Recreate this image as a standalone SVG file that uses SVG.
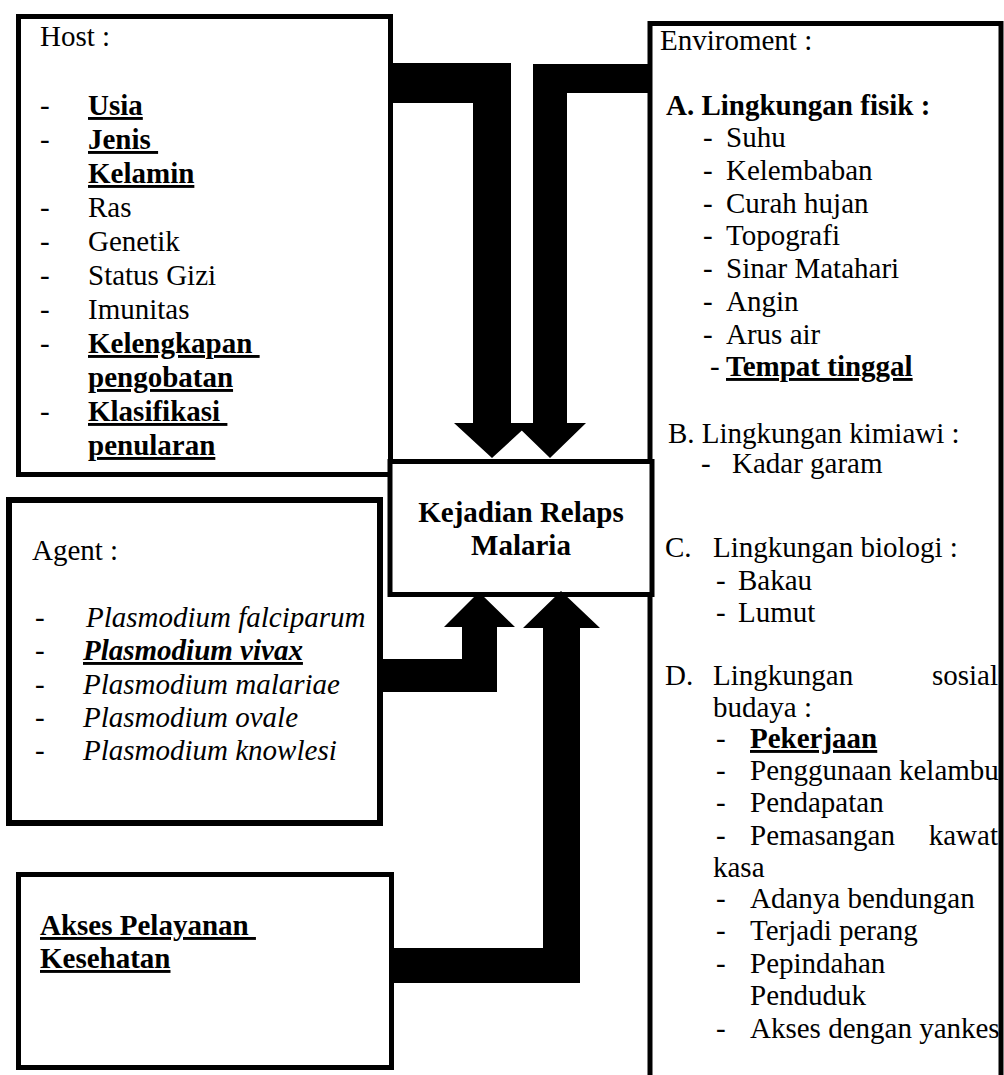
<svg xmlns="http://www.w3.org/2000/svg" width="1004" height="1075" viewBox="0 0 1004 1075" font-family="'Liberation Serif', 'Times New Roman', 'DejaVu Serif', serif">
<style>
.t{font-family:"Liberation Serif","Times New Roman","DejaVu Serif",serif;font-size:29px;fill:#000}
.b{font-weight:bold}
.i{font-style:italic}
.u{text-decoration:underline;text-decoration-thickness:2.5px;white-space:pre}
.box{fill:#fff;stroke:#000;stroke-width:5}
.arrow{fill:#000;stroke:none}
</style>
<rect x="0" y="0" width="1004" height="1075" fill="#fff"/>
<g id="environment">
<rect class="box" x="650" y="23.5" width="351" height="1100"/>
<text class="t" x="660" y="50">Enviroment :</text>
<text class="t b" x="666" y="115">A. Lingkungan fisik :</text>
<text class="t"><tspan x="703" y="147">-</tspan><tspan x="726" y="147">Suhu</tspan></text>
<text class="t"><tspan x="703" y="180">-</tspan><tspan x="726" y="180">Kelembaban</tspan></text>
<text class="t"><tspan x="703" y="213">-</tspan><tspan x="726" y="213">Curah hujan</tspan></text>
<text class="t"><tspan x="703" y="245">-</tspan><tspan x="726" y="245">Topografi</tspan></text>
<text class="t"><tspan x="703" y="278">-</tspan><tspan x="726" y="278">Sinar Matahari</tspan></text>
<text class="t"><tspan x="703" y="311">-</tspan><tspan x="726" y="311">Angin</tspan></text>
<text class="t"><tspan x="703" y="344">-</tspan><tspan x="726" y="344">Arus air</tspan></text>
<text class="t"><tspan x="710" y="376">-</tspan></text>
<text class="t b u" x="726" y="376">Tempat tinggal</text>
<text class="t" x="668" y="443">B. Lingkungan kimiawi :</text>
<text class="t"><tspan x="701" y="473">-</tspan><tspan x="732" y="473">Kadar garam</tspan></text>
<text class="t"><tspan x="665" y="557">C.</tspan><tspan x="713" y="557">Lingkungan biologi :</tspan></text>
<text class="t"><tspan x="716" y="590">-</tspan><tspan x="738" y="590">Bakau</tspan></text>
<text class="t"><tspan x="716" y="622">-</tspan><tspan x="738" y="622">Lumut</tspan></text>
<text class="t"><tspan x="665" y="685">D.</tspan><tspan x="713" y="685">Lingkungan</tspan></text>
<text class="t" x="998" y="685" text-anchor="end">sosial</text>
<text class="t" x="713" y="717">budaya :</text>
<text class="t"><tspan x="716" y="748">-</tspan></text>
<text class="t b u" x="750" y="748">Pekerjaan</text>
<text class="t"><tspan x="716" y="780">-</tspan><tspan x="750" y="780">Penggunaan kelambu</tspan></text>
<text class="t"><tspan x="716" y="812">-</tspan><tspan x="750" y="812">Pendapatan</tspan></text>
<text class="t"><tspan x="716" y="845">-</tspan><tspan x="750" y="845">Pemasangan</tspan></text>
<text class="t" x="998" y="845" text-anchor="end">kawat</text>
<text class="t" x="713" y="877">kasa</text>
<text class="t"><tspan x="716" y="908">-</tspan><tspan x="750" y="908">Adanya bendungan</tspan></text>
<text class="t"><tspan x="716" y="940">-</tspan><tspan x="750" y="940">Terjadi perang</tspan></text>
<text class="t"><tspan x="716" y="973">-</tspan><tspan x="750" y="973">Pepindahan</tspan></text>
<text class="t" x="750" y="1005">Penduduk</text>
<text class="t"><tspan x="716" y="1038">-</tspan><tspan x="750" y="1038">Akses dengan yankes</tspan></text>
</g>
<g id="host">
<rect class="box" x="18.5" y="16.5" width="372" height="458"/>
<text class="t" x="40" y="46">Host :</text>
<text class="t" x="40" y="115">-</text>
<text class="t b u" x="88" y="115">Usia</text>
<text class="t" x="40" y="149">-</text>
<text class="t b u" x="88" y="149">Jenis </text>
<text class="t b u" x="88" y="183">Kelamin</text>
<text class="t"><tspan x="40" y="217">-</tspan><tspan x="88" y="217">Ras</tspan></text>
<text class="t"><tspan x="40" y="251">-</tspan><tspan x="88" y="251">Genetik</tspan></text>
<text class="t"><tspan x="40" y="285">-</tspan><tspan x="88" y="285">Status Gizi</tspan></text>
<text class="t"><tspan x="40" y="319">-</tspan><tspan x="88" y="319">Imunitas</tspan></text>
<text class="t" x="40" y="353">-</text>
<text class="t b u" x="88" y="353">Kelengkapan </text>
<text class="t b u" x="88" y="387">pengobatan</text>
<text class="t" x="40" y="421">-</text>
<text class="t b u" x="88" y="421">Klasifikasi </text>
<text class="t b u" x="88" y="455">penularan</text>
</g>
<g id="agent">
<rect class="box" style="stroke-width:6" x="9" y="500" width="371" height="323"/>
<text class="t" x="32" y="560">Agent :</text>
<text class="t"><tspan x="35" y="627">-</tspan></text>
<text class="t i" x="86" y="627">Plasmodium falciparum</text>
<text class="t"><tspan x="35" y="660">-</tspan></text>
<text class="t b i u" x="83" y="660">Plasmodium vivax</text>
<text class="t"><tspan x="35" y="694">-</tspan></text>
<text class="t i" x="83" y="694">Plasmodium malariae</text>
<text class="t"><tspan x="35" y="727">-</tspan></text>
<text class="t i" x="83" y="727">Plasmodium ovale</text>
<text class="t"><tspan x="35" y="760">-</tspan></text>
<text class="t i" x="83" y="760">Plasmodium knowlesi</text>
</g>
<g id="akses">
<rect class="box" x="18.5" y="874.5" width="373" height="193"/>
<text class="t b u" x="40" y="935">Akses Pelayanan </text>
<text class="t b u" x="40" y="968">Kesehatan</text>
</g>
<g id="kejadian">
<rect class="box" x="390" y="461.5" width="262" height="133"/>
<text class="t b" x="521" y="522" text-anchor="middle">Kejadian Relaps</text>
<text class="t b" x="521" y="555" text-anchor="middle">Malaria</text>
</g>
<g id="connectors">
<polygon class="arrow" points="390,63 511,63 511,423 530,423 492,458 454,423 473,423 473,103 390,103"/>
<polygon class="arrow" points="652,64 652,93 567,93 567,423 586,423 550,458 514,423 533,423 533,64"/>
<polygon class="arrow" points="381,659 462,659 462,627 444,627 479,592 515,627 497,627 497,692 381,692"/>
<polygon class="arrow" points="390,948 543,948 543,628 523,628 561,591 600,628 580,628 580,983 390,983"/>
</g>
</svg>
